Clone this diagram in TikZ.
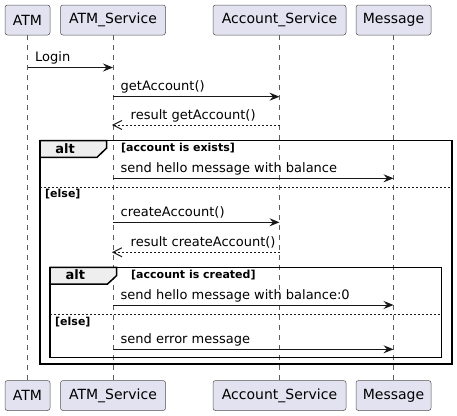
\documentclass[tikz,border=0pt]{standalone}
\usepackage{fontspec}
\setmainfont{DejaVu Sans}
\usetikzlibrary{arrows.meta, positioning, calc, decorations.markings}
\definecolor{cBOX}{HTML}{E2E2F0}
\definecolor{cLINE}{HTML}{181818}
\definecolor{cTAB}{HTML}{EEEEEE}

\begin{document}
\begin{tikzpicture}[x=1pt, y=-1pt,
  actorbox/.style={draw=cLINE!75, fill=cBOX, rounded corners=2.5pt, minimum height=30pt,
    inner sep=0pt, line width=0.5pt, font=\fontsize{14}{16}\selectfont},
  life/.style={cLINE!70, dash pattern=on 5pt off 5pt, line width=0.5pt},
  msg/.style={cLINE, line width=1pt, -{Stealth[length=10pt, width=8pt, inset=3.5pt]}},
  ret/.style={cLINE, line width=0.8pt, dash pattern=on 2pt off 2pt,
    postaction={decorate}, decoration={markings, mark=at position 1 with {
      \draw[solid, line width=1pt, line join=miter] (-9pt,4.5pt) -- (0,0) -- (-9pt,-4.5pt);}}},
  lbl/.style={anchor=base west, inner sep=0pt, font=\fontsize{13}{15}\selectfont},
  guard/.style={anchor=west, inner sep=0pt, font=\bfseries\fontsize{11}{13}\selectfont},
  frame/.style={line width=1.5pt, black},
  tab/.style={line width=1.5pt, black, fill=cTAB}]
  \useasboundingbox (0,0) rectangle (457,415);

  % Participants, top and bottom
  \foreach \nm/\x/\w/\txt in {atm/27.5/45/ATM, srv/113/105/ATM\_Service,
      acc/279.5/133/Account\_Service, mes/393.5/75/Message} {
    \node[actorbox, minimum width=\w pt] (\nm T) at (\x,20) {\txt};
    \node[actorbox, minimum width=\w pt] (\nm B) at (\x,395.5) {\txt};
    \draw[life] (\nm T.south) -- (\nm B.north);
  }

  % Message levels
  \coordinate (y1) at (0,67.5);
  \coordinate (y2) at (0,96.7);
  \coordinate (y3) at (0,125);
  \coordinate (y4) at (0,178.3);
  \coordinate (y5) at (0,222.3);
  \coordinate (y6) at (0,252.3);
  \coordinate (y7) at (0,305);
  \coordinate (y8) at (0,349.3);

  % Outer alt
  \draw[frame] (40,140.7) rectangle (452,364);
  \draw[tab] (40,140.7) -- (106.7,140.7) -- (106.7,148) -- (97,157.3) -- (40,157.3) -- cycle;
  \node[font=\bfseries\fontsize{13}{15}\selectfont] (alt1) at (65,148.5) {alt};
  \node[guard] (g1) at (121,148.5) {[account is exists]};
  \draw[cLINE, line width=0.8pt, dash pattern=on 2pt off 2pt] (40,187.3) -- (452,187.3);
  \node[guard] (g2) at (45,194.3) {[else]};

  % Inner alt
  \draw[frame] (50,267.3) rectangle (441.7,357.7);
  \draw[tab] (50,267.3) -- (116.7,267.3) -- (116.7,275.5) -- (107.5,284) -- (50,284) -- cycle;
  \node[font=\bfseries\fontsize{13}{15}\selectfont] (alt2) at (75.3,275) {alt};
  \node[guard] (g3) at (131,275) {[account is created]};
  \draw[cLINE, line width=0.8pt, dash pattern=on 2pt off 2pt] (50,314.3) -- (441.7,314.3);
  \node[guard] (g4) at (55,321.7) {[else]};

  % Messages
  \draw[msg] (atmT |- y1) -- (srvT |- y1);
  \path (atmT |- y1) ++(7.5,-6) node[lbl] {Login};
  \draw[msg] (srvT |- y2) -- (accT |- y2);
  \path (srvT |- y2) ++(7.5,-6) node[lbl] {getAccount()};
  \draw[ret] (accT |- y3) -- (srvT |- y3);
  \path (srvT |- y3) ++(17.5,-6) node[lbl] {result getAccount()};
  \draw[msg] (srvT |- y4) -- (mesT |- y4);
  \path (srvT |- y4) ++(7.5,-6) node[lbl] {send hello message with balance};
  \draw[msg] (srvT |- y5) -- (accT |- y5);
  \path (srvT |- y5) ++(7.5,-6) node[lbl] {createAccount()};
  \draw[ret] (accT |- y6) -- (srvT |- y6);
  \path (srvT |- y6) ++(17.5,-6) node[lbl] {result createAccount()};
  \draw[msg] (srvT |- y7) -- (mesT |- y7);
  \path (srvT |- y7) ++(7.5,-6) node[lbl] {send hello message with balance:0};
  \draw[msg] (srvT |- y8) -- (mesT |- y8);
  \path (srvT |- y8) ++(7.5,-6) node[lbl] {send error message};
\end{tikzpicture}
\end{document}
